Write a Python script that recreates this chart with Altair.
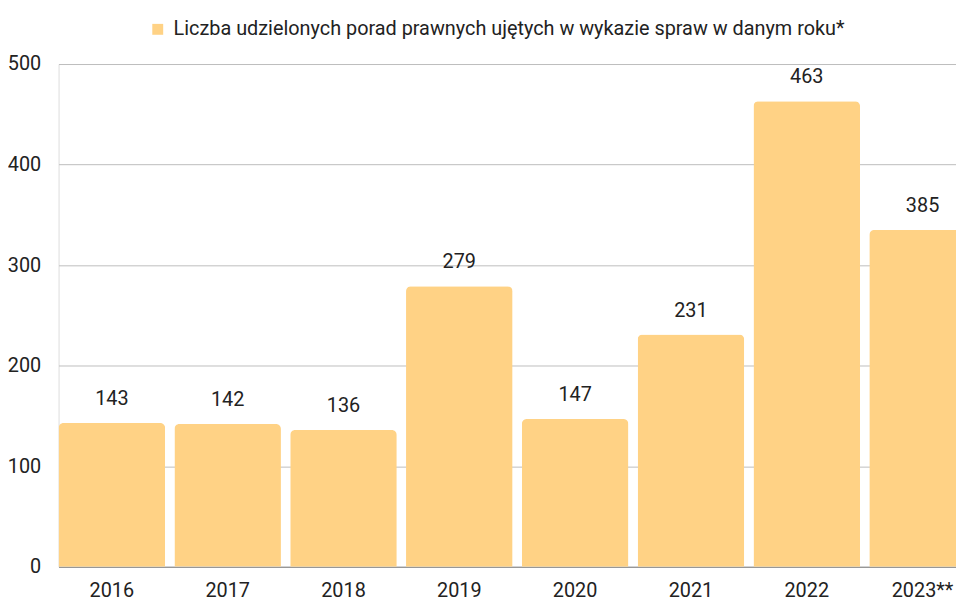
import altair as alt
import pandas as pd

years = ["2016", "2017", "2018", "2019", "2020", "2021", "2022", "2023**"]
values = [143, 142, 136, 279, 147, 231, 463, 335]
labels = ["143", "142", "136", "279", "147", "231", "463", "385"]
series = "Liczba udzielonych porad prawnych ujętych w wykazie spraw w danym roku*"

df = pd.DataFrame({"year": years, "value": values, "label": labels, "series": series})

BAR = "#FFD285"
FONT = "Roboto"
FS = 20

x = alt.X("year:N", sort=years, title=None,
          scale=alt.Scale(range=[0, 925], paddingInner=0.08, paddingOuter=0),
          axis=alt.Axis(labelAngle=0, labelFont=FONT, labelFontSize=FS, labelColor="#222222",
                        labelPadding=14, ticks=False, domain=True, domainColor="#8a8a8a",
                        domainWidth=1, grid=False))
y = alt.Y("value:Q", title=None,
          scale=alt.Scale(domain=[0, 500], nice=False),
          axis=alt.Axis(values=[0, 100, 200, 300, 400, 500], labelFont=FONT, labelFontSize=FS,
                        labelColor="#222222", labelPadding=18, ticks=False, domain=False,
                        grid=True, gridColor="#bdbdbd", gridWidth=1))

bars = alt.Chart(df).mark_bar(cornerRadiusTopLeft=5, cornerRadiusTopRight=5).encode(
    x=x, y=y,
    color=alt.Color("series:N", scale=alt.Scale(range=[BAR]),
                    legend=alt.Legend(title=None, orient="none", legendX=90, legendY=-45,
                                      symbolType="square", symbolSize=121, symbolStrokeWidth=0,
                                      labelFont=FONT, labelFontSize=FS, labelColor="#222222",
                                      labelOffset=6, labelLimit=1000))
)

text = alt.Chart(df).mark_text(font=FONT, fontSize=FS, color="#222222", dy=-18,
                               baseline="alphabetic").encode(
    x=alt.X("year:N", sort=years),
    y="value:Q",
    text="label:N",
)

chart = alt.layer(bars, text).properties(
    width=905, height=507,
    autosize=alt.AutoSizeParams(type="none"),
    padding={"left": 51, "top": 54, "right": 0, "bottom": 33},
).configure_view(stroke=None).configure(background="white")

chart.save("out.html", embed_options={"renderer": "svg", "actions": False})
